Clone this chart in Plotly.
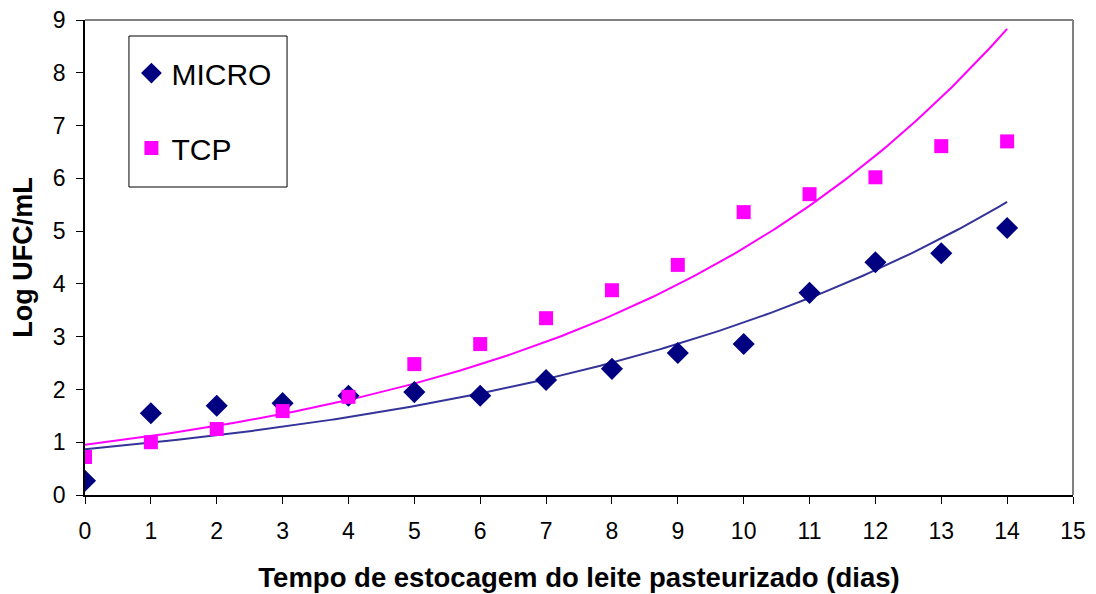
import numpy as np
import plotly.graph_objects as go

dias = list(range(15))
micro = [0.27, 1.55, 1.69, 1.74, 1.88, 1.95, 1.88, 2.18, 2.39, 2.69, 2.86, 3.83, 4.41, 4.58, 5.06]
tcp = [0.72, 1.00, 1.25, 1.59, 1.86, 2.48, 2.86, 3.35, 3.88, 4.36, 5.36, 5.70, 6.02, 6.61, 6.70]
x_ticks = list(range(16))
y_ticks = list(range(10))


def exp_fit(x, y):
    b, ln_a = np.polyfit(np.array(x, float), np.log(np.array(y, float)), 1)
    return np.exp(ln_a), b


xs = np.linspace(min(dias), max(dias), 200)
a_m, b_m = exp_fit(dias, micro)
a_t, b_t = exp_fit(dias, tcp)

fig = go.Figure()
fig.add_trace(go.Scatter(x=xs, y=a_m * np.exp(b_m * xs), mode="lines",
                         line=dict(color="#333399", width=2), showlegend=False, hoverinfo="skip"))
fig.add_trace(go.Scatter(x=xs, y=a_t * np.exp(b_t * xs), mode="lines",
                         line=dict(color="#FF00FF", width=2), showlegend=False, hoverinfo="skip"))
fig.add_trace(go.Scatter(x=dias, y=micro, mode="markers", name="MICRO", legendgroup="m",
                         marker=dict(symbol="diamond", size=17, color="#000080")))
fig.add_trace(go.Scatter(x=dias, y=tcp, mode="markers", name="TCP", legendgroup="t",
                         marker=dict(symbol="square", size=14, color="#FF00FF")))

font = "Liberation Sans, Arial, sans-serif"
fig.update_layout(
    width=1088, height=586,
    margin=dict(l=77, r=23, t=12, b=99),
    paper_bgcolor="white", plot_bgcolor="white",
    font=dict(family=font, size=23, color="black"),
    legend=dict(x=0.047, y=0.943, xanchor="left", yanchor="top",
                borderwidth=0, bgcolor="rgba(0,0,0,0)",
                font=dict(size=30, family=font), traceorder="grouped",
                tracegroupgap=33, itemwidth=30),
    xaxis=dict(range=[0, 15], tickvals=x_ticks, ticks="outside", ticklen=7,
               tickcolor="black", showline=True, linecolor="black", linewidth=1.5,
               showgrid=False, zeroline=False, automargin=False,
               tickfont=dict(size=23), ticklabelstandoff=8, ticklabeloverflow="allow",
               title=dict(text="<b>Tempo de estocagem do leite pasteurizado (dias)</b>",
                          font=dict(size=27.5), standoff=24)),
    yaxis=dict(range=[0, 9], tickvals=y_ticks, ticks="outside", ticklen=7,
               tickcolor="black", showline=True, linecolor="black", linewidth=1.5,
               showgrid=False, zeroline=False, automargin=False,
               tickfont=dict(size=23), ticklabelstandoff=6, ticklabeloverflow="allow",
               title=dict(text="<b>Log UFC/mL</b>", font=dict(size=27), standoff=12)),
    shapes=[
        dict(type="line", xref="paper", yref="paper", x0=0, x1=1, y0=1, y1=1,
             line=dict(color="#808080", width=2), layer="below"),
        dict(type="line", xref="paper", yref="paper", x0=1, x1=1, y0=0, y1=1,
             line=dict(color="#808080", width=2), layer="below"),
        dict(type="rect", xref="paper", yref="paper", x0=0.0445, x1=0.2045,
             y0=0.6484, y1=0.9663, line=dict(color="black", width=1),
             fillcolor="white", layer="below"),
    ],
)

fig.write_html("out.html")
